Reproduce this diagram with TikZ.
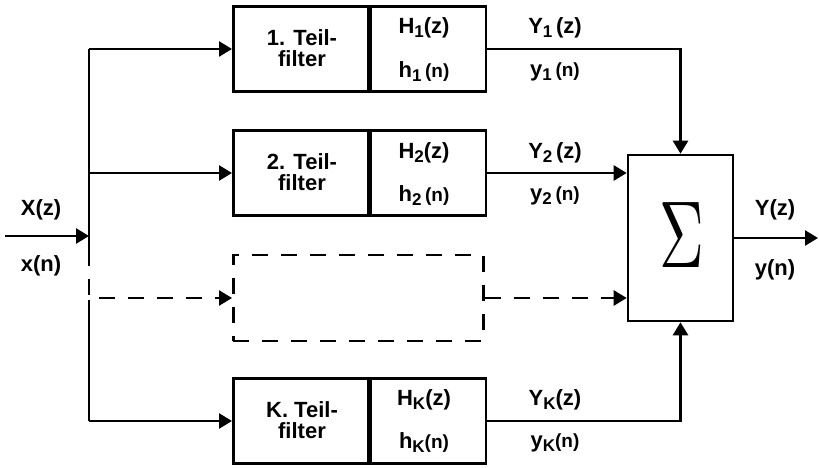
\documentclass[tikz,border=0pt]{standalone}
\usepackage{fontspec}
\setmainfont{Liberation Sans}
\usetikzlibrary{arrows.meta,calc}
\newcommand{\sbx}[1]{\raisebox{-4pt}{\fontsize{17}{17}\selectfont #1}}
\newcommand{\sm}[1]{{\fontsize{19}{19}\selectfont #1}}
\begin{document}
\begin{tikzpicture}[x=1pt,y=-1pt,
  line width=2.6pt,
  arr/.style={-{Triangle[length=13pt,width=15pt]}},
  dsh/.style={dash pattern=on 16pt off 13pt},
  lbl/.style={font=\fontsize{22}{25}\selectfont\bfseries},
  blk/.style={draw,minimum width=135pt,minimum height=85pt,inner sep=0pt},
  lblk/.style={draw,minimum width=115pt,minimum height=85pt,inner sep=0pt}
]
\useasboundingbox (0,0) rectangle (819,468);
% filter boxes
\foreach \n/\y in {a/49, b/173, k/421}{
  \node[blk,anchor=west] (\n L) at (232,\y) {};
  \node[lblk,anchor=west] (\n R) at (\n L.east) {};
}
\node[lbl,align=center] (t1) at (302,48) {1. Teil-\\[-4pt]filter};
\node[lbl,align=center] (t2) at (302,172) {2. Teil-\\[-4pt]filter};
\node[lbl,align=center] (tk) at (302,420) {K. Teil-\\[-4pt]filter};
\node[lbl] (h1Z) at (424,28) {H\sbx{1}(z)};
\node[lbl] (h1n) at (424,72) {h\sbx{1}\,\sm{(n)}};
\node[lbl] (h2Z) at (424,153) {H\sbx{2}(z)};
\node[lbl] (h2n) at (424,196) {h\sbx{2}\,\sm{(n)}};
\node[lbl] (hkZ) at (424,400) {H\sbx{K}(z)};
\node[lbl] (hkn) at (424,443) {h\sbx{K}\sm{(n)}};
% dashed box
\node[draw,dsh,minimum width=250pt,minimum height=86pt,anchor=west] (dbox) at (232,298) {};
% sum box
\node[draw,minimum width=105pt,minimum height=166pt,inner sep=0pt] (sum) at (680.5,238) {};
\node[inner sep=0pt] (sig) at (682,235) {\scalebox{6.2}[9.5]{$\Sigma$}};
% input
\coordinate (in) at (5,236);
\coordinate (jn) at (89,236);
\coordinate (ja) at (89,49);
\coordinate (jd1) at (89,250);
\coordinate (jd) at (89,298);
\coordinate (jk) at (89,421);
\draw[arr] (in) -- (jn);
\draw (ja) -- (jd1);
\draw[arr] (ja) -- (aL.west);
\draw[arr] (89,173) -- (bL.west);
\draw[dsh] (jd1) -- (jd) -- (dbox.west);
\draw[arr] ($(dbox.west)+(-14,0)$) -- (dbox.west);
\draw ($(jd)+(0,2)$) -- (jk);
\draw[arr] (jk) -- (kL.west);
% outputs
\draw[arr] (aR.east) -| (sum.north);
\draw[arr] (bR.east) -- (sum.west |- bR.east);
\draw[dsh] (dbox.east) -- (sum.west |- dbox.east);
\draw[arr] ($(sum.west |- dbox.east)+(-14,0)$) -- (sum.west |- dbox.east);
\draw[arr] (kR.east) -| (sum.south);
\coordinate (out) at (818,238);
\draw[arr] (sum.east) -- (out);
% labels
\node[lbl] (Xz) at (41,210) {X(z)};
\node[lbl] (xn) at (41,266) {x(n)};
\node[lbl] (Y1) at (555,28) {Y\sbx{1}\,(z)};
\node[lbl] (y1) at (555,72) {y\sbx{1}\,\sm{(n)}};
\node[lbl] (Y2) at (555,153) {Y\sbx{2}\,(z)};
\node[lbl] (y2) at (555,196) {y\sbx{2}\,\sm{(n)}};
\node[lbl] (Yk) at (555,400) {Y\sbx{K}(z)};
\node[lbl] (yk) at (555,443) {y\sbx{K}\sm{(n)}};
\node[lbl] (Yz) at (775,210) {Y(z)};
\node[lbl] (yn) at (775,270) {y(n)};
\end{tikzpicture}
\end{document}
